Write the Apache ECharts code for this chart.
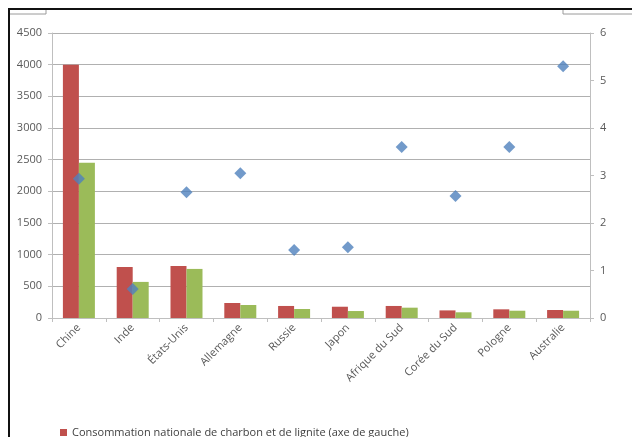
<!DOCTYPE html>
<html>
<head>
<meta charset="utf-8">
<script src="https://cdn.jsdelivr.net/npm/echarts@6/dist/echarts.min.js"></script>
<style>
  html, body { margin: 0; padding: 0; background: #ffffff; }
  #chart { width: 632px; height: 437px; }
</style>
</head>
<body>
<div id="chart"></div>
<script>
// Pays
const categories = ['Chine', 'Inde', 'États-Unis', 'Allemagne', 'Russie', 'Japon',
  'Afrique du Sud', 'Corée du Sud', 'Pologne', 'Australie'];

// Consommation nationale de charbon et de lignite (axe de gauche)
const consommation = [4000, 805, 820, 237, 190, 178, 190, 120, 137, 126];
// Deuxième série en barres (axe de gauche)
const production = [2450, 570, 775, 205, 142, 110, 163, 90, 115, 115];
// Série en losanges (axe de droite)
const ratio = [2.93, 0.61, 2.65, 3.05, 1.43, 1.49, 3.6, 2.57, 3.6, 5.3];

// Graduations des axes
const leftTicks = { min: 0, max: 4500, interval: 500 };
const rightTicks = { min: 0, max: 6, interval: 1 };

const labelFont = "'Open Sans', 'Noto Sans', sans-serif";
const axisGray = '#bfbfbf';
const textGray = '#595959';

const chart = echarts.init(document.getElementById('chart'), null, { renderer: 'canvas' });

chart.setOption({
  animation: false,
  backgroundColor: '#ffffff',
  grid: { left: 52, right: 42, top: 33, bottom: 119, containLabel: false },
  legend: {
    data: ['Consommation nationale de charbon et de lignite (axe de gauche)'],
    left: 55, top: 422,
    icon: 'rect', itemWidth: 7, itemHeight: 7, itemGap: 4,
    textStyle: { fontFamily: labelFont, fontSize: 11, color: '#404040' }
  },
  xAxis: {
    type: 'category',
    data: categories,
    axisLine: { lineStyle: { color: axisGray } },
    axisTick: { show: true, length: 4, lineStyle: { color: axisGray } },
    axisLabel: {
      rotate: 45, margin: 8, interval: 0,
      fontFamily: labelFont, fontSize: 11, color: textGray
    }
  },
  yAxis: [
    {
      type: 'value', position: 'left',
      min: leftTicks.min, max: leftTicks.max, interval: leftTicks.interval,
      axisLine: { show: true, lineStyle: { color: axisGray } },
      axisTick: { show: true, length: 4, lineStyle: { color: axisGray } },
      splitLine: { show: true, lineStyle: { color: '#b0b0b0', width: 1 } },
      axisLabel: {
        margin: 10, fontFamily: labelFont, fontSize: 11, color: textGray,
        formatter: v => String(v)
      }
    },
    {
      type: 'value', position: 'right',
      min: rightTicks.min, max: rightTicks.max, interval: rightTicks.interval,
      axisLine: { show: true, lineStyle: { color: axisGray } },
      axisTick: { show: true, length: 4, lineStyle: { color: axisGray } },
      splitLine: { show: false },
      axisLabel: {
        margin: 10, fontFamily: labelFont, fontSize: 11, color: textGray,
        formatter: v => String(v)
      }
    }
  ],
  series: [
    {
      name: 'Consommation nationale de charbon et de lignite (axe de gauche)',
      type: 'bar', yAxisIndex: 0,
      data: consommation,
      barWidth: 16, barGap: '0%',
      itemStyle: { color: '#c0504d' }
    },
    {
      name: 'Production nationale de charbon et de lignite (axe de gauche)',
      type: 'bar', yAxisIndex: 0,
      data: production,
      barWidth: 16, barGap: '0%',
      itemStyle: { color: '#9bbb59' }
    },
    {
      name: 'Rapport (axe de droite)',
      type: 'scatter', yAxisIndex: 1,
      data: ratio,
      symbol: 'diamond', symbolSize: [12, 12],
      itemStyle: { color: '#4f81bd' },
      z: 5
    }
  ],
  graphic: [
    // cadre noir en haut et à gauche
    { type: 'line', shape: { x1: 8, y1: 9, x2: 632, y2: 9 }, style: { stroke: '#111', lineWidth: 2 } },
    { type: 'line', shape: { x1: 9, y1: 8, x2: 9, y2: 437 }, style: { stroke: '#111', lineWidth: 2 } },
    // traits fins des cellules voisines
    { type: 'line', shape: { x1: 10, y1: 14, x2: 46, y2: 14 }, style: { stroke: '#9a9a9a', lineWidth: 1 } },
    { type: 'line', shape: { x1: 46, y1: 10, x2: 46, y2: 14 }, style: { stroke: '#9a9a9a', lineWidth: 1 } },
    { type: 'line', shape: { x1: 563, y1: 14, x2: 632, y2: 14 }, style: { stroke: '#9a9a9a', lineWidth: 1 } },
    { type: 'line', shape: { x1: 563, y1: 10, x2: 563, y2: 14 }, style: { stroke: '#9a9a9a', lineWidth: 1 } }
  ]
});
</script>
</body>
</html>
